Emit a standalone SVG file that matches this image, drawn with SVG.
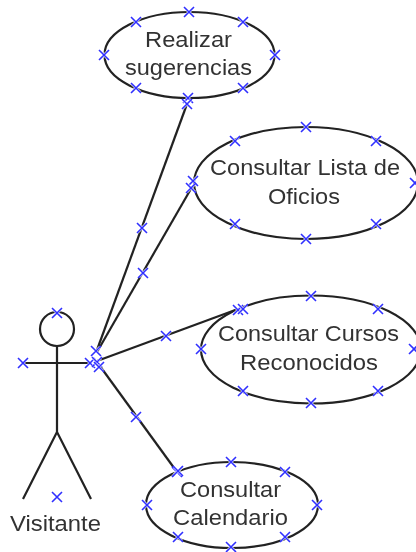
<svg xmlns="http://www.w3.org/2000/svg" width="416" height="552" viewBox="0 0 416 552">
<style>
.s{fill:none;stroke:#222;stroke-width:2.2}
.t{font-family:"Liberation Sans",Arial,sans-serif;font-size:22.500px;fill:#333;text-anchor:middle}
.h{fill:none;stroke:#fff;stroke-width:2.6}
.x{fill:none;stroke:#3030ff;stroke-width:1.6}
</style>
<defs>
<filter id="b" x="-5%" y="-5%" width="110%" height="110%"><feGaussianBlur stdDeviation="0.5"/></filter>
<g id="m"><path class="h" d="M-4-4L4 4M-4 4L4-4"/><path class="x" d="M-5-5L5 5M-5 5L5-5"/></g>
</defs>
<rect width="416" height="552" fill="#fff"/>
<g filter="url(#b)">
<g id="connectors" class="s">
<path d="M97 350L187 104"/>
<path d="M97 352L192 187"/>
<path d="M97 361L238 309"/>
<path d="M97 362L177 472"/>
</g>
<g id="realizar"><ellipse class="s" cx="189.500" cy="55" rx="85" ry="43"/><text class="t" x="188.500" y="47" textLength="87" lengthAdjust="spacingAndGlyphs">Realizar</text><text class="t" x="188.500" y="75" textLength="127" lengthAdjust="spacingAndGlyphs">sugerencias</text></g>
<g id="lista"><ellipse class="s" cx="306" cy="183" rx="112" ry="56"/><text class="t" x="305" y="175" textLength="190" lengthAdjust="spacingAndGlyphs">Consultar Lista de</text><text class="t" x="304" y="204" textLength="72" lengthAdjust="spacingAndGlyphs">Oficios</text></g>
<g id="cursos"><ellipse class="s" cx="311" cy="349.500" rx="110" ry="54"/><text class="t" x="308.500" y="341" textLength="181" lengthAdjust="spacingAndGlyphs">Consultar Cursos</text><text class="t" x="309" y="370" textLength="138" lengthAdjust="spacingAndGlyphs">Reconocidos</text></g>
<g id="calendario"><ellipse class="s" cx="232" cy="505" rx="86" ry="43"/><text class="t" x="230.500" y="497" textLength="101" lengthAdjust="spacingAndGlyphs">Consultar</text><text class="t" x="230.500" y="525" textLength="115" lengthAdjust="spacingAndGlyphs">Calendario</text></g>
<g id="visitante"><circle class="s" cx="57" cy="329" r="17"/><path class="s" d="M57 346V432M23 363H91M57 432L23 499M57 432L91 499"/><text class="t" x="55.500" y="531" textLength="91" lengthAdjust="spacingAndGlyphs">Visitante</text></g>
</g>
<g id="handles">
<use href="#m" x="189" y="12"/><use href="#m" x="136" y="22"/><use href="#m" x="243" y="22"/><use href="#m" x="104" y="55"/><use href="#m" x="275" y="55"/><use href="#m" x="136" y="88"/><use href="#m" x="243" y="88"/><use href="#m" x="188" y="98"/><use href="#m" x="187" y="104"/>
<use href="#m" x="306" y="127"/><use href="#m" x="235" y="141"/><use href="#m" x="376" y="141"/><use href="#m" x="193" y="181"/><use href="#m" x="191" y="188"/><use href="#m" x="415" y="183"/><use href="#m" x="235" y="224"/><use href="#m" x="376" y="224"/><use href="#m" x="306" y="239"/>
<use href="#m" x="311" y="296"/><use href="#m" x="238" y="310"/><use href="#m" x="243" y="309"/><use href="#m" x="378" y="309"/><use href="#m" x="201" y="349"/><use href="#m" x="414" y="349"/><use href="#m" x="243" y="391"/><use href="#m" x="378" y="391"/><use href="#m" x="311" y="403"/>
<use href="#m" x="231" y="462"/><use href="#m" x="177" y="472"/><use href="#m" x="178" y="471"/><use href="#m" x="285" y="472"/><use href="#m" x="147" y="505"/><use href="#m" x="317" y="505"/><use href="#m" x="178" y="537"/><use href="#m" x="285" y="537"/><use href="#m" x="231" y="547"/>
<use href="#m" x="57" y="313"/><use href="#m" x="23" y="363"/><use href="#m" x="90" y="363"/><use href="#m" x="96" y="351"/><use href="#m" x="97" y="362"/><use href="#m" x="99" y="367"/><use href="#m" x="57" y="497"/>
<use href="#m" x="142" y="228"/><use href="#m" x="143" y="273"/><use href="#m" x="166" y="336"/><use href="#m" x="136" y="417"/>
</g>
</svg>
